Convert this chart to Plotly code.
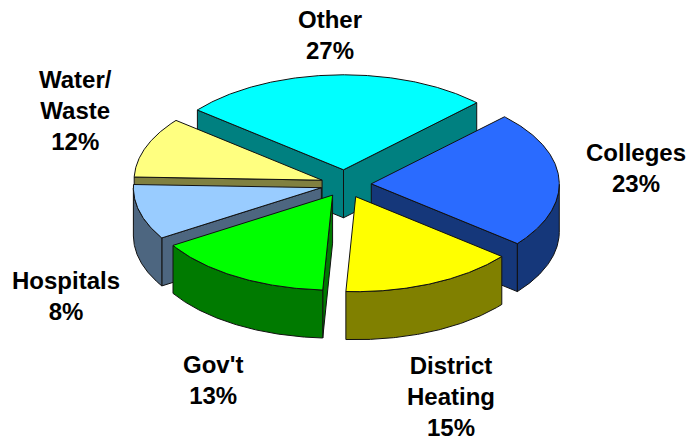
import numpy as np
import plotly.graph_objects as go

# Slice names, printed percentage labels, and wedge shares as drawn in the picture
categories = ["Other", "Colleges", "District Heating", "Gov't", "Hospitals", "Water/Waste"]
printed_pct = [27, 23, 15, 13, 8, 12]
drawn_share = [26.7, 23.3, 15.0, 15.3, 9.4, 10.3]
explode = [0.155, 0.14, 0.14, 0.13, 0.13, 0.13]
top_colors = ["#00FFFF", "#2A6BFF", "#FFFF00", "#00FF00", "#99CCFF", "#FFFF80"]
side_colors = ["#008080", "#15377A", "#808000", "#007A00", "#4D6680", "#808040"]
label_lines = [["Other", "27%"], ["Colleges", "23%"], ["District", "Heating", "15%"],
               ["Gov't", "13%"], ["Hospitals", "8%"], ["Water/", "Waste", "12%"]]
label_pos = [(330, 35), (636, 168), (451, 396), (213, 380), (66, 296), (75, 110)]
draw_order = [0, 1, 5, 4, 2, 3]

CX, CY, RX, RY, DEPTH, START = 345, 184.5, 188, 95, 48, 141.0
FONT = "Liberation Sans, Arial, sans-serif"
FONT_SIZE = 24

fig = go.Figure()


def poly(xs, ys, fill):
    fig.add_trace(go.Scatter(
        x=xs, y=ys, mode="lines", fill="toself", fillcolor=fill,
        line=dict(color="#111111", width=1), hoverinfo="skip", showlegend=False))


# Angles of every wedge boundary, going clockwise
deg = np.array(drawn_share) / sum(drawn_share) * 360
edges = START - np.concatenate([[0], np.cumsum(deg)])

for i in draw_order:
    a0, a1 = edges[i], edges[i + 1]
    mid = np.radians((a0 + a1) / 2)
    ox = CX + explode[i] * RX * np.cos(mid)
    oy = CY - explode[i] * RY * np.sin(mid)
    t = np.radians(np.linspace(a0, a1, max(int(a0 - a1) * 2, 8)))
    ax = ox + RX * np.cos(t)
    ay = oy - RY * np.sin(t)

    # Radial cut faces, only where they turn toward the viewer
    if np.sin(np.radians(a0 + 90)) < 0:
        poly([ox, ax[0], ax[0], ox, ox], [oy, ay[0], ay[0] + DEPTH, oy + DEPTH, oy], side_colors[i])
    if np.sin(np.radians(a1 - 90)) < 0:
        poly([ox, ax[-1], ax[-1], ox, ox], [oy, ay[-1], ay[-1] + DEPTH, oy + DEPTH, oy], side_colors[i])

    # Outer wall: the part of the rim on the near side
    front = np.sin(t) < 0
    if front.sum() > 1:
        wx, wy = ax[front], ay[front]
        poly(np.r_[wx, wx[::-1], wx[0]], np.r_[wy, wy[::-1] + DEPTH, wy[0]], side_colors[i])

    # Top face
    poly(np.r_[ox, ax, ox], np.r_[oy, ay, oy], top_colors[i])

for lines, (lx, ly) in zip(label_lines, label_pos):
    fig.add_annotation(x=lx, y=ly, xref="x", yref="y", text="<br>".join(lines),
                       showarrow=False, align="center",
                       font=dict(family=FONT, size=FONT_SIZE, color="black", weight="bold"))

fig.update_xaxes(range=[0, 687], visible=False, fixedrange=True)
fig.update_yaxes(range=[440, 0], visible=False, fixedrange=True)
fig.update_layout(width=687, height=440, autosize=False, margin=dict(l=0, r=0, t=0, b=0),
                  paper_bgcolor="white", plot_bgcolor="white", showlegend=False)
fig.write_html("out.html", config={"displayModeBar": False},
               post_script="document.body.style.margin='0';document.body.style.overflow='hidden';")
